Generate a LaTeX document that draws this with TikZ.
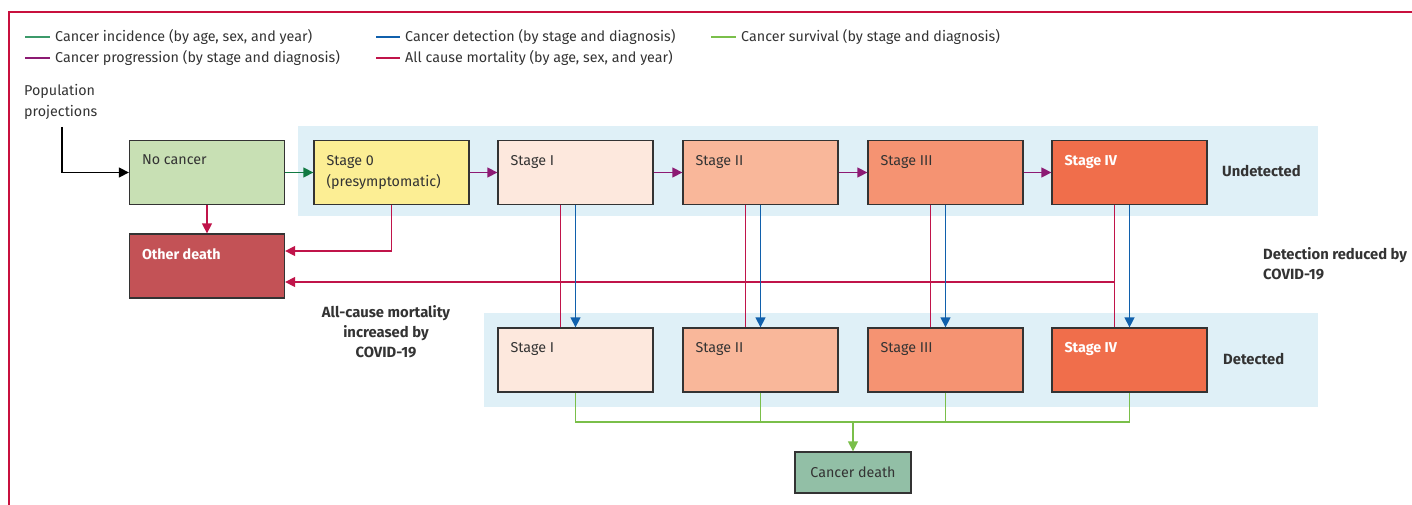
\documentclass[tikz,border=0pt]{standalone}
\usepackage{fontspec}
\setmainfont{Fira Sans}
\usetikzlibrary{arrows.meta}
\definecolor{frameRed}{HTML}{C8103E}
\definecolor{txt}{HTML}{333333}
\definecolor{boxline}{HTML}{333333}
\definecolor{band}{HTML}{DFF0F7}
\definecolor{cNo}{HTML}{C8E0B4}
\definecolor{cS0}{HTML}{FCEE94}
\definecolor{cS1}{HTML}{FDE8DD}
\definecolor{cS2}{HTML}{F9B79A}
\definecolor{cS3}{HTML}{F59372}
\definecolor{cS4}{HTML}{F06E4B}
\definecolor{cOD}{HTML}{C35256}
\definecolor{cCD}{HTML}{92BFA6}
\definecolor{lInc}{HTML}{117A43}
\definecolor{lLegInc}{HTML}{3C9A6A}
\definecolor{lProg}{HTML}{8C1A73}
\definecolor{lDet}{HTML}{1060AC}
\definecolor{lSurv}{HTML}{7ABF4A}
\definecolor{lMort}{HTML}{C0144A}
\begin{document}
\begin{tikzpicture}[x=1pt,y=-1pt,
  font=\fontsize{14.3}{21}\selectfont, text=txt,
  box/.style={draw=boxline, line width=1.3pt, minimum width=155pt, minimum height=64pt, inner sep=0pt},
  tl/.style={label={[anchor=north west, inner sep=0pt, xshift=13pt, yshift=-15pt, align=left]north west:{#1}}},
  tlw/.style={label={[anchor=north west, inner sep=0pt, xshift=13pt, yshift=-15pt, align=left, text=white, font=\fontsize{14.3}{21}\selectfont\bfseries]north west:{#1}}},
  conn/.style={line width=1.4pt},
  tip/.style={-{Triangle[length=10pt,width=10pt]}},
  inc/.style={conn, draw=lInc, tip},
  prog/.style={conn, draw=lProg, tip},
  det/.style={conn, draw=lDet, tip},
  surv/.style={conn, draw=lSurv},
  mort/.style={conn, draw=lMort},
  leg/.style={line width=1.8pt},
  legtext/.style={anchor=west, inner sep=0pt},
  boldlab/.style={inner sep=0pt, font=\fontsize{14.8}{20}\selectfont\bfseries}
]
\useasboundingbox (0,0) rectangle (1412,505);
% frame
\draw[frameRed, line width=1.2pt] (1412,12) -- (9,12) -- (9,505);
% legend
\draw[leg, lLegInc] (25,37) -- (50,37);
\node[legtext] (lg1) at (55,37) {Cancer incidence (by age, sex, and year)};
\draw[leg, lDet] (376,37) -- (400,37);
\node[legtext] (lg2) at (405,37) {Cancer detection (by stage and diagnosis)};
\draw[leg, lSurv] (711,37) -- (736,37);
\node[legtext] (lg3) at (741,37) {Cancer survival (by stage and diagnosis)};
\draw[leg, lProg] (25,58) -- (50,58);
\node[legtext] (lg4) at (55,58) {Cancer progression (by stage and diagnosis)};
\draw[leg, lMort] (376,58) -- (400,58);
\node[legtext] (lg5) at (405,58) {All cause mortality (by age, sex, and year)};
% bands
\fill[band] (298,126) rectangle (1318,216);
\fill[band] (484,313) rectangle (1318,407);
% population
\node[anchor=west, align=left, inner sep=0pt] (pop) at (24,102) {Population\\projections};
\coordinate (pp) at (62,127);
% boxes
\node[box, fill=cNo, tl={No cancer}] (nc) at (207,172.5) {};
\node[box, fill=cS0, tl={Stage 0\\(presymptomatic)}] (s0) at (391.5,172.5) {};
\node[box, fill=cS1, tl={Stage I}] (u1) at (575.5,172.5) {};
\node[box, fill=cS2, tl={Stage II}] (u2) at (760.5,172.5) {};
\node[box, fill=cS3, tl={Stage III}] (u3) at (945.5,172.5) {};
\node[box, fill=cS4, tlw={Stage IV}] (u4) at (1129.5,172.5) {};
\node[box, fill=cOD, tlw={Other death}] (od) at (207,266) {};
\node[box, fill=cS1, tl={Stage I}] (d1) at (575.5,360) {};
\node[box, fill=cS2, tl={Stage II}] (d2) at (760.5,360) {};
\node[box, fill=cS3, tl={Stage III}] (d3) at (945.5,360) {};
\node[box, fill=cS4, tlw={Stage IV}] (d4) at (1129.5,360) {};
\node[box, fill=cCD, minimum width=116pt, minimum height=41pt] (cd) at (853,472.5) {Cancer death};
% labels
\node[boldlab, anchor=west] (und) at (1222,171) {Undetected};
\node[boldlab, anchor=west] (dtd) at (1223,359) {Detected};
\node[boldlab, anchor=west, align=left] (dred) at (1263,264) {Detection reduced by\\COVID-19};
\node[boldlab, align=center] (acm) at (386,332) {All-cause mortality\\increased by\\COVID-19};
% connectors
\draw[conn, tip, draw=black] (pp) |- (nc.west);
\draw[inc] (nc.east) -- (s0.west);
\draw[prog] (s0.east) -- (u1.west);
\draw[prog] (u1.east) -- (u2.west);
\draw[prog] (u2.east) -- (u3.west);
\draw[prog] (u3.east) -- (u4.west);
\draw[mort, tip] (nc.south) -- (od.north);
\draw[mort, tip] (s0.south) |- ([yshift=15pt]od.east);
\draw[mort, tip] ([xshift=-15pt]u4.south) |- ([yshift=-16pt]od.east);
\foreach \u/\d in {u1/d1,u2/d2,u3/d3,u4/d4}{
  \draw[mort] ([xshift=-15pt]\u.south) -- ([xshift=-15pt]\d.north);
  \draw[det] (\u.south) -- (\d.north);
}
\coordinate (gl) at (0,422);
\draw[surv] (d1.south) -- (d1.south |- gl) -- (d4.south |- gl) -- (d4.south);
\draw[surv] (d2.south) -- (d2.south |- gl);
\draw[surv] (d3.south) -- (d3.south |- gl);
\draw[surv, tip] (cd.north |- gl) -- (cd.north);
\end{tikzpicture}
\end{document}
